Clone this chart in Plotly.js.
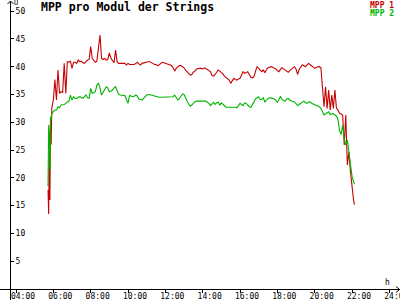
<!DOCTYPE html>
<html>
<head>
<meta charset="utf-8">
<script src="https://cdn.plot.ly/plotly-3.0.1.min.js"></script>
<style>html,body{margin:0;padding:0;background:#fff;}#chart{width:400px;height:300px;}</style>
</head>
<body>
<div id="chart"></div>
<script>
const times = ["05:43","05:45","05:47","05:49","05:51","05:53","05:55","05:58",
"06:00","06:05","06:10","06:15","06:20","06:25","06:30","06:35","06:40","06:45","06:50","06:55",
"07:00","07:05","07:10","07:15","07:20","07:25","07:30","07:35","07:40","07:45","07:50","07:55",
"08:00","08:05","08:10","08:15","08:20","08:25","08:30","08:35","08:40","08:45","08:50","08:55",
"09:00","09:05","09:10","09:15","09:20","09:25","09:30","09:35","09:40","09:45","09:50","09:55",
"10:00","10:05","10:10","10:15","10:20","10:25","10:30","10:35","10:40","10:45","10:50","10:55",
"11:00","11:05","11:10","11:15","11:20","11:25","11:30","11:35","11:40","11:45","11:50","11:55",
"12:00","12:05","12:10","12:15","12:20","12:25","12:30","12:35","12:40","12:45","12:50","12:55",
"13:00","13:05","13:10","13:15","13:20","13:25","13:30","13:35","13:40","13:45","13:50","13:55",
"14:00","14:05","14:10","14:15","14:20","14:25","14:30","14:35","14:40","14:45","14:50","14:55",
"15:00","15:05","15:10","15:15","15:20","15:25","15:30","15:35","15:40","15:45","15:50","15:55",
"16:00","16:05","16:10","16:15","16:20","16:25","16:30","16:35","16:40","16:45","16:50","16:55",
"17:00","17:05","17:10","17:15","17:20","17:25","17:30","17:35","17:40","17:45","17:50","17:55",
"18:00","18:05","18:10","18:15","18:20","18:25","18:30","18:35","18:40","18:45","18:50","18:55",
"19:00","19:05","19:10","19:15","19:20","19:25","19:30","19:35","19:40","19:45","19:50","19:55",
"20:00","20:05","20:10","20:15","20:20","20:25","20:30","20:35","20:40","20:45","20:50","20:55",
"21:00","21:05","21:10","21:15","21:20","21:25","21:30","21:35","21:40","21:45","21:50","21:55",
"22:00","22:05","22:08"];

const mpp1 = [17.8,13.5,24.5,16,31,26,32.5,33.4,
34,37.7,34,39.4,35.2,35.5,35.4,40.6,35.2,40.9,40.8,41,
39.7,40.8,40.8,40.6,41.2,40.9,41,40.7,40.6,40.9,41.2,41.3,
43.6,41.5,41.2,40.8,41,43.9,45.7,41.5,41.3,41.5,41.2,41.3,
42.5,41.5,41,40.7,43,40.9,40.6,40.6,40.6,40.5,40.6,40.3,
40.6,40.4,40.4,40.5,40.4,40.6,40.8,40.5,40.3,40.6,40.7,40.8,
40.9,40.9,40.9,40.8,40.6,40.4,40.4,40.2,40.3,40.6,40.8,40.7,
40.6,40.4,40.3,40.3,40.2,39.8,39.2,39.7,40,40.2,40.2,40,
39.8,39.4,39,38.8,38.5,38.6,39,39.2,39.6,39.7,39.7,39.7,
39.6,39.8,39.7,39.5,39.3,39.1,38.4,38.3,38.6,39,39.4,39.2,
39,38.7,38.3,38.1,37.9,37.6,37,37.6,37.9,37.7,37.6,37.8,
37.9,38.5,39.1,38.8,38.9,39.1,38.6,38.1,38,38.2,39.2,40,
39.7,39.4,39.1,39.4,38.9,39.5,39.8,39.9,40,39.9,39.8,39.6,
39.3,39.1,39.5,39.8,39.6,39.4,39.2,39,39.3,39.6,39.8,40,
39.6,38.6,39.5,39.8,40.3,40.2,40,40.3,40.6,40.4,40.2,40,
39.7,39.9,40,40,39.8,36.1,32.8,36.4,32.5,35.8,32.2,34.9,
32.5,35.8,32.5,32.2,31.6,31.5,31.3,25.9,31.3,22.3,24.7,21.1,
17.8,16,15.2];

const mpp2 = [18.5,29.5,28,21.5,31,30.4,31.5,31.9,
31.9,32.2,32.2,32.8,32.6,33.1,33.1,33.2,33.4,33.7,33.7,34.9,
34,34.6,34.3,34.3,34.5,34.6,34.4,34.3,34.6,34.9,34.4,34.3,
36.1,35.2,35.3,35.5,36.7,37,36.2,34.9,35.4,35.8,36.4,36.2,
35.5,35.6,35.8,36.2,36.4,35.7,35,34.9,34.9,34.9,34.8,34.1,
33.4,34.8,34.7,34.6,34.7,34.9,34.7,34.2,34.1,34,34.3,34.6,
34.9,35,35,34.9,34.8,34.7,34.6,34.5,34.5,34.5,34.5,34.5,
34.5,34.5,34.5,34.5,34.5,34.6,34.9,34.5,34,34.2,34.6,35.1,
35,34.3,33.8,33.3,32.9,33.1,33.4,33.7,33.8,33.8,33.8,33.8,
33.8,33.8,33.8,33.6,33.4,33,33.4,33.6,33.2,33.5,33.6,33.1,
33.5,33.2,33,32.7,32.7,32.7,32.7,32.8,32.8,32.7,32.6,33,
33.4,33.2,33,33.5,33.4,33.1,32.8,32.7,33.3,33.8,34.2,34.4,
34.6,34.1,34.1,34.4,33.6,34,34.3,34.4,34.4,34.3,34.2,34,
33.6,34,34.7,34.1,33.9,33.8,34.2,34.3,34,33.8,33.7,33.7,
33.4,33,33.2,33.4,33.7,33.8,33.6,33.4,33.6,33.7,33.4,33.3,
33.2,33.1,33,32.8,32.5,31.9,31.3,31.5,31.7,31.9,31.4,31.5,
31.6,31.3,31.1,30.5,28.5,27.8,29.5,27.1,25.9,26.8,24.7,22,
20.3,19.3,18.9];

const seriesNames = ["MPP 1", "MPP 2"];
const xTickVals = [4,6,8,10,12,14,16,18,20,22,24];
const xTickText = ["04:00","06:00","08:00","10:00","12:00","14:00","16:00","18:00","20:00","22:00","24:00"];
const yTickVals = [5,10,15,20,25,30,35,40,45,50];

const RED = "#c80000", GREEN = "#00b400";
const FONT = "DejaVu Sans Mono, Liberation Mono, monospace";

function toHours(s){ const p = s.split(":").map(Number); return p[0] + p[1]/60; }
const x = times.map(toHours);

// pixel -> paper helpers for decorations (plot area is 400 x 289 px from top-left)
const PW = 400, PH = 289;
const px = v => v / PW;
const py = v => (PH - v) / PH;

const traces = [
  {x: x, y: mpp1, type: "scatter", mode: "lines", name: seriesNames[0], line: {color: RED, width: 1.1}},
  {x: x, y: mpp2, type: "scatter", mode: "lines", name: seriesNames[1], line: {color: GREEN, width: 1.1}}
];

const tickFont = {family: FONT, size: 8, color: "#000"};
const xr = [3.143, 24.571], yr = [0, 52];

const layout = {
  width: 400, height: 300,
  margin: {l: 0, r: 0, t: 0, b: 11, pad: 0},
  paper_bgcolor: "#fff", plot_bgcolor: "#fff",
  showlegend: false,
  xaxis: {range: xr, tickvals: xTickVals, ticktext: xTickText, ticks: "outside", ticklen: 3,
          tickcolor: "#000", tickwidth: 1, showgrid: false, zeroline: false, showline: false,
          tickfont: tickFont, ticklabelshift: 7, ticklabelstandoff: -4, ticklabeloverflow: "allow",
          fixedrange: true},
  xaxis2: {range: xr, tickvals: xTickVals, overlaying: "x", anchor: "y", side: "top",
           ticks: "outside", ticklen: 3, tickcolor: "#000", showticklabels: false,
           showgrid: false, zeroline: false, showline: false, matches: "x"},
  yaxis: {range: yr, tickvals: yTickVals, anchor: "free", position: 10/400, side: "right",
          ticks: "outside", ticklen: 3, tickcolor: "#000", showgrid: false, zeroline: false,
          showline: false, tickfont: tickFont, fixedrange: true},
  yaxis2: {range: yr, tickvals: yTickVals, anchor: "free", position: 10/400, side: "left",
           overlaying: "y", ticks: "outside", ticklen: 3, tickcolor: "#000",
           showticklabels: false, showgrid: false, zeroline: false, showline: false},
  shapes: [
    {type: "line", xref: "paper", yref: "paper", x0: px(10.5), x1: px(10.5), y0: py(1), y1: py(300), line: {color: "#000", width: 1}},
    {type: "line", xref: "paper", yref: "paper", x0: px(0), x1: px(400), y0: py(289.5), y1: py(289.5), line: {color: "#000", width: 1}},
    {type: "path", xref: "paper", yref: "paper",
     path: `M ${px(7.5)} ${py(4)} L ${px(10.5)} ${py(1)} L ${px(13.5)} ${py(4)}`, line: {color: "#000", width: 1}},
    {type: "path", xref: "paper", yref: "paper",
     path: `M ${px(396)} ${py(286.5)} L ${px(399.5)} ${py(289.5)} L ${px(396)} ${py(292.5)}`, line: {color: "#000", width: 1}}
  ],
  annotations: [
    {text: "<b>MPP pro Modul der Strings</b>", xref: "paper", yref: "paper", x: px(39), y: py(7.5),
     xanchor: "left", yanchor: "middle", showarrow: false, font: {family: FONT, size: 11.5, color: "#000"}},
    {text: "<b>" + seriesNames[0] + "</b>", xref: "paper", yref: "paper", x: px(396), y: py(5),
     xanchor: "right", yanchor: "middle", showarrow: false, font: {family: FONT, size: 8, color: RED}},
    {text: "<b>" + seriesNames[1] + "</b>", xref: "paper", yref: "paper", x: px(396), y: py(13),
     xanchor: "right", yanchor: "middle", showarrow: false, font: {family: FONT, size: 8, color: GREEN}},
    {text: "U", xref: "paper", yref: "paper", x: px(12.5), y: py(2.5), xanchor: "left", yanchor: "middle",
     borderpad: 0, showarrow: false, font: {family: FONT, size: 7, color: "#000"}},
    {text: "h", xref: "paper", yref: "paper", x: px(387.5), y: py(282), xanchor: "center", yanchor: "middle",
     showarrow: false, font: {family: FONT, size: 8, color: "#000"}}
  ]
};

Plotly.newPlot("chart", traces, layout, {displayModeBar: false, staticPlot: true});
</script>
</body>
</html>
